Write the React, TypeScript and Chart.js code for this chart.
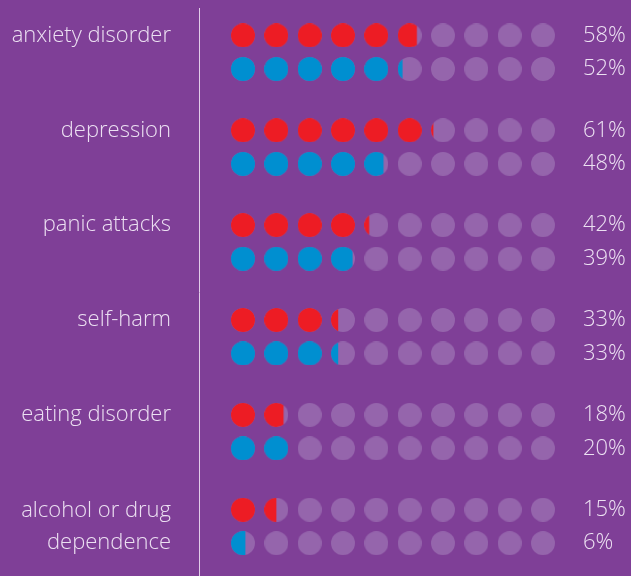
import React, { useEffect, useRef } from "react";
import { Chart, registerables } from "chart.js";

Chart.register(...registerables);

// ---- data ----
const categories: string[][] = [
  ["anxiety disorder"],
  ["depression"],
  ["panic attacks"],
  ["self-harm"],
  ["eating disorder"],
  ["alcohol or drug", "dependence"],
];
const redValues = [58, 61, 42, 33, 18, 15];
const blueValues = [52, 48, 39, 33, 20, 6];
const dotsPerRow = 10; // each dot = 10%

// ---- style ----
const BG = "#7F3F97";
const EMPTY = "#9565AC";
const RED = "#ED1C24";
const BLUE = "#008FD0";
const TEXT = "#ECE0F2";
const LINE = "#E2CDE9";
const FONT = "'Open Sans', Lato, sans-serif";

const GROUP_STEP = 2.83; // in row units
const rowY = (g: number, s: number) => g * GROUP_STEP + s;

function makeDot(color: string, frac: number): HTMLCanvasElement {
  const d = 24;
  const c = document.createElement("canvas");
  c.width = d;
  c.height = d;
  const ctx = c.getContext("2d")!;
  ctx.fillStyle = EMPTY;
  ctx.beginPath();
  ctx.arc(d / 2, d / 2, d / 2, 0, Math.PI * 2);
  ctx.fill();
  if (frac > 0) {
    ctx.save();
    ctx.beginPath();
    ctx.rect(0, 0, d * frac, d);
    ctx.clip();
    ctx.fillStyle = color;
    ctx.beginPath();
    ctx.arc(d / 2, d / 2, d / 2, 0, Math.PI * 2);
    ctx.fill();
    ctx.restore();
  }
  return c;
}

function buildDataset(values: number[], s: number, color: string) {
  const data: { x: number; y: number }[] = [];
  const styles: HTMLCanvasElement[] = [];
  values.forEach((v, g) => {
    for (let i = 0; i < dotsPerRow; i++) {
      const frac = Math.max(0, Math.min(1, v / 10 - i));
      data.push({ x: i, y: rowY(g, s) });
      styles.push(makeDot(color, frac));
    }
  });
  return {
    data,
    pointStyle: styles,
    pointRadius: 12,
    pointHoverRadius: 12,
    backgroundColor: color,
    borderWidth: 0,
    showLine: false,
  };
}

export default function App() {
  const ref = useRef<HTMLCanvasElement | null>(null);

  useEffect(() => {
    document.body.style.margin = "0";
    const canvas = ref.current!;
    const leftTicks = categories.map((c, g) => (c.length > 1 ? rowY(g, 0.5) : rowY(g, 0)));
    const rightTicks: number[] = [];
    const rightLabels: string[] = [];
    categories.forEach((_, g) => {
      rightTicks.push(rowY(g, 0));
      rightLabels.push(`${redValues[g]}%`);
      rightTicks.push(rowY(g, 1));
      rightLabels.push(`${blueValues[g]}%`);
    });
    const yMin = -0.82;
    const yMax = 16.13;
    const noPad = (s: any) => {
      s.paddingTop = 0;
      s.paddingBottom = 0;
    };

    const chart = new Chart(canvas, {
      type: "scatter",
      data: {
        datasets: [buildDataset(redValues, 0, RED) as any, buildDataset(blueValues, 1, BLUE) as any],
      },
      options: {
        animation: false,
        responsive: false,
        devicePixelRatio: 1,
        layout: { autoPadding: false, padding: { top: 8, bottom: 0, left: 0, right: 0 } },
        plugins: { legend: { display: false }, tooltip: { enabled: false } },
        scales: {
          x: { type: "linear", min: -1.32, max: 9.84, display: false },
          y: {
            type: "linear",
            position: "left",
            reverse: true,
            min: yMin,
            max: yMax,
            grid: { display: false, drawTicks: false },
            border: { display: true, color: LINE, width: 1 },
            afterFit: (s: any) => {
              s.width = 199;
              noPad(s);
            },
            afterBuildTicks: (s: any) => {
              s.ticks = leftTicks.map((v) => ({ value: v }));
            },
            ticks: {
              autoSkip: false,
              padding: 28,
              color: TEXT,
              font: { family: FONT, size: 22, weight: "300", lineHeight: 1.45 },
              callback: (_v: any, i: number) => categories[i],
            },
          },
          y2: {
            type: "linear",
            position: "right",
            reverse: true,
            min: yMin,
            max: yMax,
            grid: { display: false, drawTicks: false },
            border: { display: false },
            afterFit: (s: any) => {
              s.width = 60;
              noPad(s);
            },
            afterBuildTicks: (s: any) => {
              s.ticks = rightTicks.map((v) => ({ value: v }));
            },
            ticks: {
              autoSkip: false,
              padding: 12,
              color: TEXT,
              font: { family: FONT, size: 22, weight: "300" },
              callback: (_v: any, i: number) => rightLabels[i],
            },
          },
        },
      },
    });
    return () => chart.destroy();
  }, []);

  return (
    <div style={{ width: 631, height: 576, background: BG }}>
      <canvas ref={ref} width={631} height={576} style={{ display: "block" }} />
    </div>
  );
}
